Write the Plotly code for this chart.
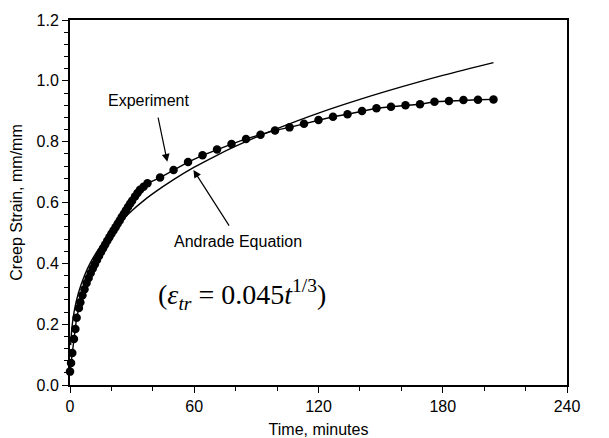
import plotly.graph_objects as go

# Experimental creep data (time in minutes, strain in mm/mm)
exp_time = [0, 0.5, 1.1, 1.9, 2.6, 3.2, 4.3, 5, 6, 7, 8, 9, 10, 11, 12, 13, 14, 15,
            16, 17, 18, 19, 20, 21, 22, 23, 24, 25, 26, 27, 28, 29, 30, 31.4, 32.6,
            33.8, 35.5, 37.4, 43.5, 50, 57, 64, 71, 78, 85, 92, 99, 106, 113, 120,
            127, 134, 141, 148, 155, 162, 169, 176, 183, 190, 197, 204.5]
exp_strain = [0.044, 0.072, 0.105, 0.151, 0.184, 0.221, 0.253, 0.272, 0.295, 0.315,
              0.335, 0.352, 0.368, 0.383, 0.397, 0.411, 0.424, 0.437, 0.450, 0.462,
              0.474, 0.486, 0.497, 0.508, 0.519, 0.530, 0.541, 0.552, 0.563, 0.574,
              0.585, 0.596, 0.606, 0.620, 0.631, 0.642, 0.652, 0.663, 0.682, 0.707,
              0.733, 0.755, 0.774, 0.792, 0.809, 0.823, 0.837, 0.847, 0.859, 0.871,
              0.882, 0.890, 0.901, 0.910, 0.915, 0.920, 0.923, 0.931, 0.934, 0.937,
              0.938, 0.939]

# Andrade equation curve
andrade_time = [0.3, 1, 2, 4, 7, 10, 15, 20, 25, 30, 35, 40, 50, 60, 70, 80, 90, 100,
                120, 140, 160, 180, 204.5]
andrade_strain = [0.131, 0.193, 0.241, 0.301, 0.360, 0.404, 0.459, 0.504, 0.541, 0.574,
                  0.603, 0.629, 0.675, 0.716, 0.752, 0.785, 0.815, 0.843, 0.894, 0.939,
                  0.980, 1.018, 1.060]

x_ticks = [0, 60, 120, 180, 240]
y_ticks = [0.0, 0.2, 0.4, 0.6, 0.8, 1.0, 1.2]
y_tick_text = ["0.0", "0.2", "0.4", "0.6", "0.8", "1.0", "1.2"]

FONT = "Liberation Sans, Arial, sans-serif"

fig = go.Figure()
fig.add_trace(go.Scatter(
    x=andrade_time, y=andrade_strain, mode="lines",
    line=dict(color="black", width=1.4, shape="spline"),
    showlegend=False, hoverinfo="skip"))
fig.add_trace(go.Scatter(
    x=exp_time, y=exp_strain, mode="lines+markers",
    line=dict(color="black", width=1.4),
    marker=dict(color="black", size=8.5),
    cliponaxis=False, showlegend=False))

# Text labels
fig.add_annotation(x=37.9, y=0.937, text="Experiment", showarrow=False,
                   font=dict(family=FONT, size=16, color="black"))
fig.add_annotation(x=81.3, y=0.473, text="Andrade Equation", showarrow=False,
                   font=dict(family=FONT, size=16, color="black"))
fig.add_annotation(x=82.9, y=0.298,
                   text="(<i>ε</i><sub><i>tr</i></sub> = 0.045<i>t</i><sup>1/3</sup>)",
                   showarrow=False,
                   font=dict(family="Liberation Serif, Times New Roman, serif", size=28,
                             color="black"))
# Arrows
fig.add_annotation(x=47.0, y=0.734, ax=42.4, ay=0.884, axref="x", ayref="y",
                   text="", showarrow=True, arrowhead=2, arrowsize=1.3,
                   arrowwidth=1.2, arrowcolor="black")
fig.add_annotation(x=59.6, y=0.707, ax=77.3, ay=0.519, axref="x", ayref="y",
                   text="", showarrow=True, arrowhead=2, arrowsize=1.3,
                   arrowwidth=1.2, arrowcolor="black")

fig.update_xaxes(
    range=[0, 240], tickvals=x_ticks, ticks="outside", ticklen=6, tickwidth=1.2,
    tickcolor="black", showline=True, linecolor="black", linewidth=2, mirror=True,
    showgrid=False, zeroline=False, automargin=False,
    minor=dict(dtick=20, ticks="outside", ticklen=4, tickwidth=1.2, tickcolor="black",
               showgrid=False),
    tickfont=dict(family=FONT, size=16, color="black"),
    title=dict(text="Time, minutes", font=dict(family=FONT, size=16, color="black"),
               standoff=10))
fig.update_yaxes(
    range=[0, 1.2], tickvals=y_ticks, ticktext=y_tick_text, ticks="outside", ticklen=6,
    tickwidth=1.2, tickcolor="black", showline=True, linecolor="black", linewidth=2,
    mirror=True, showgrid=False, zeroline=False, automargin=False,
    minor=dict(dtick=0.04, ticks="outside", ticklen=4, tickwidth=1.2, tickcolor="black",
               showgrid=False),
    tickfont=dict(family=FONT, size=16, color="black"),
    title=dict(text="Creep Strain, mm/mm", font=dict(family=FONT, size=16, color="black"),
               standoff=10))

fig.update_layout(
    width=609, height=438,
    margin=dict(l=70, r=42, t=20, b=53),
    paper_bgcolor="white", plot_bgcolor="white",
)

fig.write_html("out.html", config={"displayModeBar": False},
               post_script="document.body.style.margin='0';document.body.style.overflow='hidden';")
